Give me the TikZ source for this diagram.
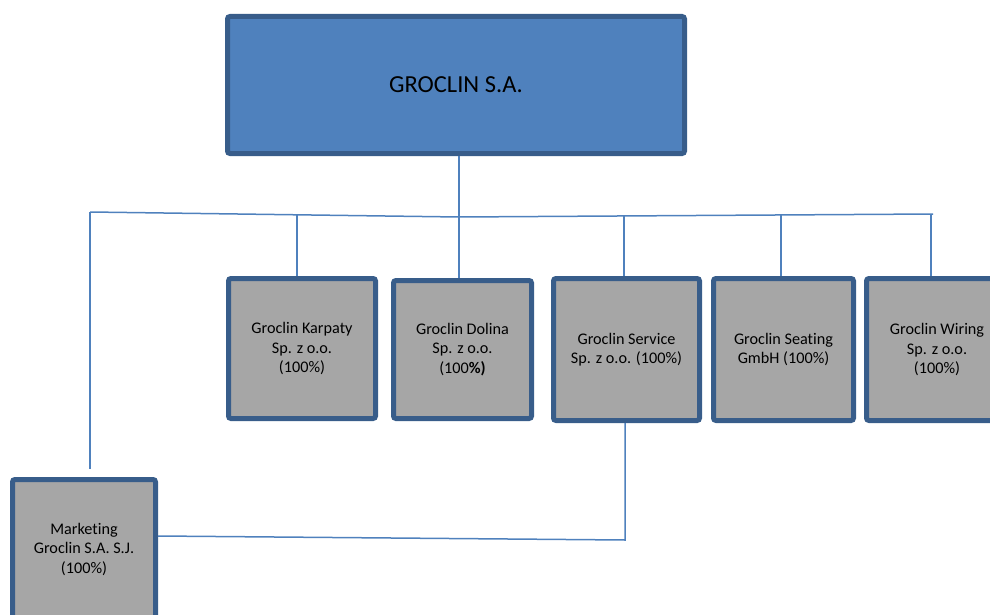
\documentclass[tikz,border=0pt]{standalone}
\usepackage{fontspec}
\setmainfont[Ligatures={NoCommon}]{Carlito}
\definecolor{boxborder}{HTML}{385D8A}
\definecolor{topfill}{HTML}{4F81BD}
\definecolor{subfill}{HTML}{A6A6A6}
\definecolor{linkblue}{HTML}{4F81BD}
\begin{document}
\begin{tikzpicture}[x=1pt,y=-1pt,
  orgbox/.style={draw=boxborder,line width=5pt,rounded corners=2.5pt,inner sep=0pt,align=center,text=black},
  topbox/.style={orgbox,fill=topfill,font=\fontsize{24.5}{29}\selectfont},
  subbox/.style={orgbox,fill=subfill,font=\fontsize{16.2}{19.5}\selectfont},
  link/.style={draw=linkblue,line width=1.5pt}]
\useasboundingbox (0,0) rectangle (990,615);
\clip (0,0) rectangle (990,615);
\node[topbox,minimum width=457pt,minimum height=137pt] (top) at (456,85) {GROCLIN S.A.};
\node[subbox,minimum width=147pt,minimum height=140pt] (karpaty) at (302,348.5) {Groclin Karpaty\\Sp. z o.o.\\(100\%)};
\node[subbox,minimum width=138pt,minimum height=138pt] (dolina) at (462.5,349.5) {Groclin Dolina\\Sp. z o.o.\\(100\textbf{\%)}};
\node[subbox,minimum width=146pt,minimum height=142pt] (service) at (626.5,349.5) {Groclin Service\\Sp. z o.o. (100\%)};
\node[subbox,minimum width=140pt,minimum height=142pt] (seating) at (783.5,349.5) {Groclin Seating\\GmbH (100\%)};
\node[subbox,minimum width=141pt,minimum height=142pt] (wiring) at (937,349.5) {Groclin Wiring\\Sp. z o.o.\\(100\%)};
\node[subbox,minimum width=143pt,minimum height=139pt] (marketing) at (84,549) {Marketing\\Groclin S.A. S.J.\\(100\%)};
% bar coordinates
\coordinate (bL) at (90,212);
\coordinate (bM) at (459,217);
\coordinate (bR) at (933,214);
\coordinate (kB) at (297,215);
\coordinate (sB) at (624,216);
\coordinate (gB) at (781,215);
\coordinate (wB) at (931,214);
\coordinate (mT) at (90,469);
\coordinate (sL) at (625,540);
\coordinate (mE) at ([yshift=13pt]marketing.east);
% connectors
\draw[link] (bL) -- (bM) -- (bR);
\draw[link] (bM |- top.south) -- (bM) -- (bM |- dolina.north);
\draw[link] (kB) -- (kB |- karpaty.north);
\draw[link] (sB) -- (sB |- service.north);
\draw[link] (gB) -- (gB |- seating.north);
\draw[link] (wB) -- (wB |- wiring.north);
\draw[link] (bL) -- (mT);
\draw[link] (sL |- service.south) -- (sL) -- (mE);
\end{tikzpicture}
\end{document}
